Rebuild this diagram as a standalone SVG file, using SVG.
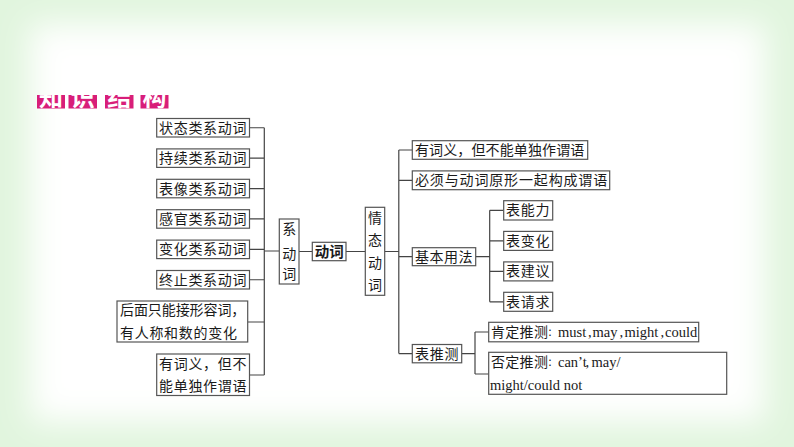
<svg xmlns="http://www.w3.org/2000/svg" width="794" height="447" viewBox="0 0 794 447">
<style>
.box{fill:#fff;stroke:#555;stroke-width:1.2}
.t{font-family:"Noto Sans CJK SC","Noto Sans CJK TC",sans-serif;font-size:14px;fill:#1a1a1a;letter-spacing:0.7px}
.v{font-family:"Noto Sans CJK SC",sans-serif;font-size:14px;fill:#1a1a1a;text-anchor:middle}
.en{font-family:"Liberation Serif",serif;font-size:14.5px;letter-spacing:0;fill:#1a1a1a}
.cl{font-family:"Noto Sans CJK SC",sans-serif;font-size:10px;fill:#1a1a1a}
.ln{stroke:#444;stroke-width:1.2;fill:none}
.ttl{font-family:"Noto Sans CJK SC",sans-serif;font-size:24px;font-weight:bold;fill:#fff;text-anchor:middle}
</style>
<defs>
<filter id="blur" x="-20%" y="-20%" width="140%" height="140%"><feGaussianBlur stdDeviation="16"/></filter>
<clipPath id="tc">
<rect x="37" y="95" width="28" height="13.5"/>
<rect x="68.5" y="95" width="28.5" height="13.5"/>
<rect x="105" y="95" width="28.5" height="13.5"/>
<rect x="140.5" y="95" width="28" height="13.5"/>
</clipPath>
</defs>
<g id="background">
<rect x="0" y="0" width="794" height="447" fill="#e1f5de"/>
<rect x="30" y="24" width="735" height="398" fill="#ffffff" filter="url(#blur)"/>
</g>
<g id="title">
<rect x="37" y="95" width="28" height="13.5" fill="#d81e79"/>
<rect x="68.5" y="95" width="28.5" height="13.5" fill="#d81e79"/>
<rect x="105" y="95" width="28.5" height="13.5" fill="#d81e79"/>
<rect x="140.5" y="95" width="28" height="13.5" fill="#d81e79"/>
<g clip-path="url(#tc)">
<text class="ttl" x="51" y="106">知</text>
<text class="ttl" x="82.7" y="106">识</text>
<text class="ttl" x="119.2" y="106">结</text>
<text class="ttl" x="154.5" y="106">构</text>
</g>
</g>
<g id="connectors">
<path class="ln" d="M264.3,127.75V375M249.5,127.75H264.3M249.5,158.15H264.3M249.5,188.55H264.3M249.5,218.95H264.3M249.5,249.35H264.3M249.5,279.75H264.3M247.7,322H264.3M249.5,375H264.3"/>
<path class="ln" d="M264.3,251H279.3M299,251.5H312.3M346,251.5H365.3M384.7,251.5H398.8"/>
<path class="ln" d="M398.8,150V353.6M398.8,150H412.3M398.8,180.3H412.3M398.8,256.7H412.3M398.8,353.6H412.3"/>
<path class="ln" d="M475.7,256.7H489.7M489.7,210.3V301.8M489.7,210.3H503.7M489.7,240.9H503.7M489.7,271.4H503.7M489.7,301.8H503.7"/>
<path class="ln" d="M461.7,353.6H475M475,332V374M475,332H488.7M475,374H488.7"/>
</g>
<g id="n-zhuangtai"><rect class="box" x="156.7" y="118.5" width="92.8" height="18.5"/><text class="t" x="159" y="132.8">状态类系动词</text></g>
<g id="n-chixu"><rect class="box" x="156.7" y="148.9" width="92.8" height="18.5"/><text class="t" x="159" y="163.2">持续类系动词</text></g>
<g id="n-biaoxiang"><rect class="box" x="156.7" y="179.3" width="92.8" height="18.5"/><text class="t" x="159" y="193.6">表像类系动词</text></g>
<g id="n-ganguan"><rect class="box" x="156.7" y="209.7" width="92.8" height="18.5"/><text class="t" x="159" y="224">感官类系动词</text></g>
<g id="n-bianhua"><rect class="box" x="156.7" y="240.1" width="92.8" height="18.5"/><text class="t" x="159" y="254.4">变化类系动词</text></g>
<g id="n-zhongzhi"><rect class="box" x="156.7" y="270.5" width="92.8" height="18.5"/><text class="t" x="159" y="284.8">终止类系动词</text></g>
<g id="n-houmian"><rect class="box" x="117" y="301" width="130.7" height="41"/><text class="t" x="120" y="314.7" textLength="126" lengthAdjust="spacing">后面只能接形容词，</text><text class="t" x="120" y="337.8">有人称和数的变化</text></g>
<g id="n-youciyi-left"><rect class="box" x="156.7" y="354" width="92.8" height="41.5"/><text class="t" x="159" y="368.7">有词义，但不</text><text class="t" x="159" y="390.8">能单独作谓语</text></g>
<g id="n-xidongci"><rect class="box" x="279.3" y="219" width="19.7" height="65"/><text class="v" x="289.2" y="234">系</text><text class="v" x="289.2" y="258.5">动</text><text class="v" x="289.2" y="279">词</text></g>
<g id="n-dongci"><rect class="box" x="312.3" y="242.3" width="33.7" height="18.4"/><text class="v" x="329.2" y="256.7" style="font-weight:bold;font-size:14.5px">动词</text></g>
<g id="n-qingtai"><rect class="box" x="365.3" y="207.3" width="19.4" height="88"/><text class="v" x="375" y="223.3">情</text><text class="v" x="375" y="245.3">态</text><text class="v" x="375" y="268">动</text><text class="v" x="375" y="290">词</text></g>
<g id="n-youciyi-right"><rect class="box" x="412.3" y="140.7" width="175.4" height="18.6"/><text class="t" x="415" y="155" textLength="170" lengthAdjust="spacing">有词义，但不能单独作谓语</text></g>
<g id="n-bixu"><rect class="box" x="412.3" y="170.9" width="197.4" height="18.8"/><text class="t" x="415" y="185.3" style="letter-spacing:0.85px">必须与动词原形一起构成谓语</text></g>
<g id="n-jiben"><rect class="box" x="412.3" y="247.7" width="63.4" height="18"/><text class="t" x="415" y="261.7" style="letter-spacing:0.5px">基本用法</text></g>
<g id="n-nengli"><rect class="box" x="503.7" y="200.7" width="49" height="19.3"/><text class="t" x="506" y="215.3">表能力</text></g>
<g id="n-biaobianhua"><rect class="box" x="503.7" y="231.4" width="49" height="19"/><text class="t" x="506" y="245.9">表变化</text></g>
<g id="n-jianyi"><rect class="box" x="503.7" y="261.9" width="49" height="19"/><text class="t" x="506" y="276.4">表建议</text></g>
<g id="n-qingqiu"><rect class="box" x="503.7" y="292.3" width="49" height="19"/><text class="t" x="506" y="306.8">表请求</text></g>
<g id="n-tuice"><rect class="box" x="412.3" y="344.5" width="49.4" height="18.3"/><text class="t" x="415" y="358.6">表推测</text></g>
<g id="n-kending"><rect class="box" x="488.7" y="322.3" width="210" height="19.5"/><text class="t" x="491" y="337" style="letter-spacing:0.3px">肯定推测</text><text class="cl" x="547.6" y="336">：</text><text class="en" y="337"><tspan x="558">must</tspan><tspan x="588">,</tspan><tspan x="592.5">may</tspan><tspan x="619.5">,</tspan><tspan x="624.5">might</tspan><tspan x="660.5">,</tspan><tspan x="665">could</tspan></text></g>
<g id="n-fouding"><rect class="box" x="488.7" y="352.3" width="238" height="42"/><text class="t" x="491" y="366.7" style="letter-spacing:0.3px">否定推测</text><text class="cl" x="547.6" y="365.7">：</text><text class="en" y="366.7"><tspan x="558">can’t</tspan><tspan x="585.5">,</tspan><tspan x="591.5">may/</tspan></text><text class="en" x="490" y="389.5">might/could not</text></g>
</svg>
